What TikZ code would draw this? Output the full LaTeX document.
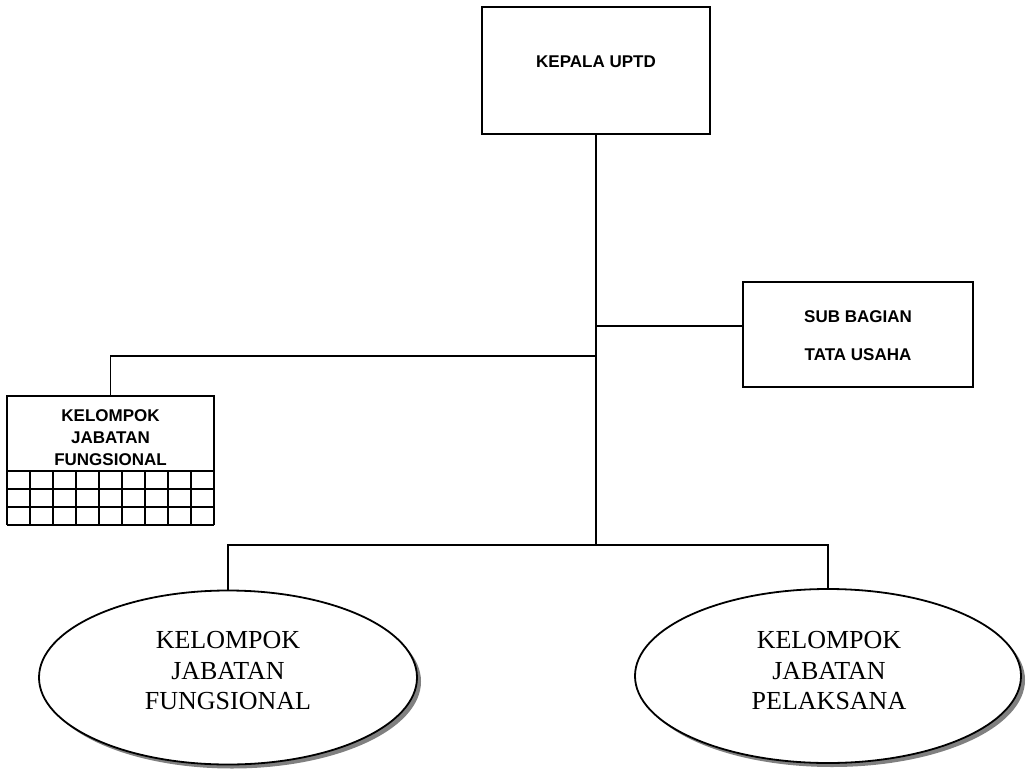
\documentclass[tikz,border=0pt]{standalone}
\usepackage{fontspec}
\setmainfont{Liberation Serif}
\setsansfont{Liberation Sans}
\usetikzlibrary{shapes.geometric,shadows}
\begin{document}
\begin{tikzpicture}[x=1pt,y=-1pt,
  line width=1.8pt,
  box/.style={draw=black, fill=white, rectangle, inner sep=0pt},
  boxtext/.style={font=\sffamily\bfseries\fontsize{17}{22}\selectfont, align=center, inner sep=0pt},
  oval/.style={draw=black, fill=white, ellipse, inner sep=0pt,
     drop shadow={shadow xshift=4pt, shadow yshift=-4pt, fill=black!50, opacity=1}},
  ovaltext/.style={font=\rmfamily\fontsize{26}{30.5}\selectfont, align=center, inner sep=0pt},
  conn/.style={draw=black, line width=1.8pt}]
\useasboundingbox (0,0) rectangle (1027,770);

% Kepala UPTD
\node[box, minimum width=228pt, minimum height=127pt] (kepala) at (596,70.5) {};
\node[boxtext] (kepalaT) at (596,62) {KEPALA UPTD};

% Sub Bagian Tata Usaha
\node[box, minimum width=230pt, minimum height=105pt] (sub) at (858,334.5) {};
\node[boxtext, font=\sffamily\bfseries\fontsize{17}{38}\selectfont] (subT) at (858,336) {SUB BAGIAN\\TATA USAHA};

% Kelompok Jabatan Fungsional box with grid
\node[box, minimum width=207pt, minimum height=75pt] (kjf) at (110.5,433.5) {};
\node[boxtext] (kjfT) at (110.5,437.5) {KELOMPOK\\JABATAN\\FUNGSIONAL};
\foreach \r in {489,507,525} {\draw (7,\r) -- (214,\r);}
\foreach \i in {0,...,9} {\draw (7+23*\i,471) -- (7+23*\i,525);}

% Ellipses
\node[oval, minimum width=378pt, minimum height=174pt] (ellL) at (228,677.5) {};
\node[ovaltext] (ellLT) at (228,671) {KELOMPOK\\JABATAN\\FUNGSIONAL};
\node[oval, minimum width=386pt, minimum height=174pt] (ellR) at (828,676) {};
\node[ovaltext] (ellRT) at (829,671) {KELOMPOK\\JABATAN\\PELAKSANA};

% Connectors
\coordinate (trunk) at (596,545);
\coordinate (sj) at (596,326);
\coordinate (lj) at (596,356);
\draw[conn] (kepala.south) -- (trunk);
\draw[conn] (sj) -- (sj -| sub.west);
\draw[conn] (lj) -| (kjf.north);
\draw[conn] (ellL.north) |- (trunk) -| (ellR.north);
\end{tikzpicture}
\end{document}
